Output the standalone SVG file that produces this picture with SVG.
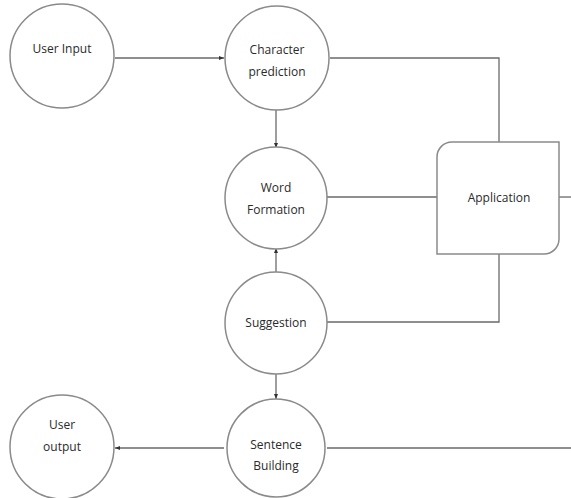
<svg xmlns="http://www.w3.org/2000/svg" width="571" height="498" viewBox="0 0 571 498">
<defs>
<style>
.node{fill:#fff;stroke:#8a8a8a;stroke-width:1.5}
.lbl{font-family:"Open Sans","Noto Sans",sans-serif;font-size:12px;fill:#2a2a2a;text-anchor:middle}
.con{fill:none;stroke:#6a6a6a;stroke-width:1.3}
</style>
<marker id="ah" viewBox="0 0 10 10" refX="10" refY="5" markerWidth="5" markerHeight="5" orient="auto" markerUnits="userSpaceOnUse">
<path d="M0,1 L10,5 L0,9 Z" fill="#333"/>
</marker>
</defs>
<rect width="571" height="498" fill="#fff"/>
<g id="connectors">
<line class="con" x1="115" y1="58" x2="224" y2="58" marker-end="url(#ah)"/>
<polyline class="con" points="330,58 499,58 499,142"/>
<line class="con" x1="276" y1="108" x2="276" y2="148" marker-end="url(#ah)"/>
<line class="con" x1="327" y1="197" x2="437" y2="197"/>
<line class="con" x1="559" y1="197" x2="571" y2="197"/>
<line class="con" x1="276" y1="273" x2="276" y2="248" marker-end="url(#ah)"/>
<polyline class="con" points="327,322 499,322 499,254"/>
<line class="con" x1="276" y1="373" x2="276" y2="399" marker-end="url(#ah)"/>
<line class="con" x1="224" y1="448" x2="115" y2="448" marker-end="url(#ah)"/>
<line class="con" x1="327" y1="448" x2="571" y2="448"/>
</g>
<g id="user-input">
<circle class="node" cx="62" cy="56" r="52"/>
<text class="lbl" x="62" y="53">User Input</text>
</g>
<g id="character-prediction">
<circle class="node" cx="277" cy="58" r="52"/>
<text class="lbl" x="277" y="54">Character</text>
<text class="lbl" x="277" y="76">prediction</text>
</g>
<g id="word-formation">
<circle class="node" cx="276" cy="198" r="51"/>
<text class="lbl" x="276" y="192">Word</text>
<text class="lbl" x="276" y="214">Formation</text>
</g>
<g id="application">
<path class="node" d="M452,142 H559 V239 A15,15 0 0 1 544,254 H437 V157 A15,15 0 0 1 452,142 Z"/>
<text class="lbl" x="499" y="202">Application</text>
</g>
<g id="suggestion">
<circle class="node" cx="276" cy="323" r="51"/>
<text class="lbl" x="276" y="327">Suggestion</text>
</g>
<g id="user-output">
<circle class="node" cx="62" cy="447" r="52"/>
<text class="lbl" x="62" y="429">User</text>
<text class="lbl" x="62" y="451">output</text>
</g>
<g id="sentence-building">
<circle class="node" cx="276" cy="448" r="49"/>
<text class="lbl" x="276" y="449">Sentence</text>
<text class="lbl" x="276" y="470">Building</text>
</g>
</svg>
